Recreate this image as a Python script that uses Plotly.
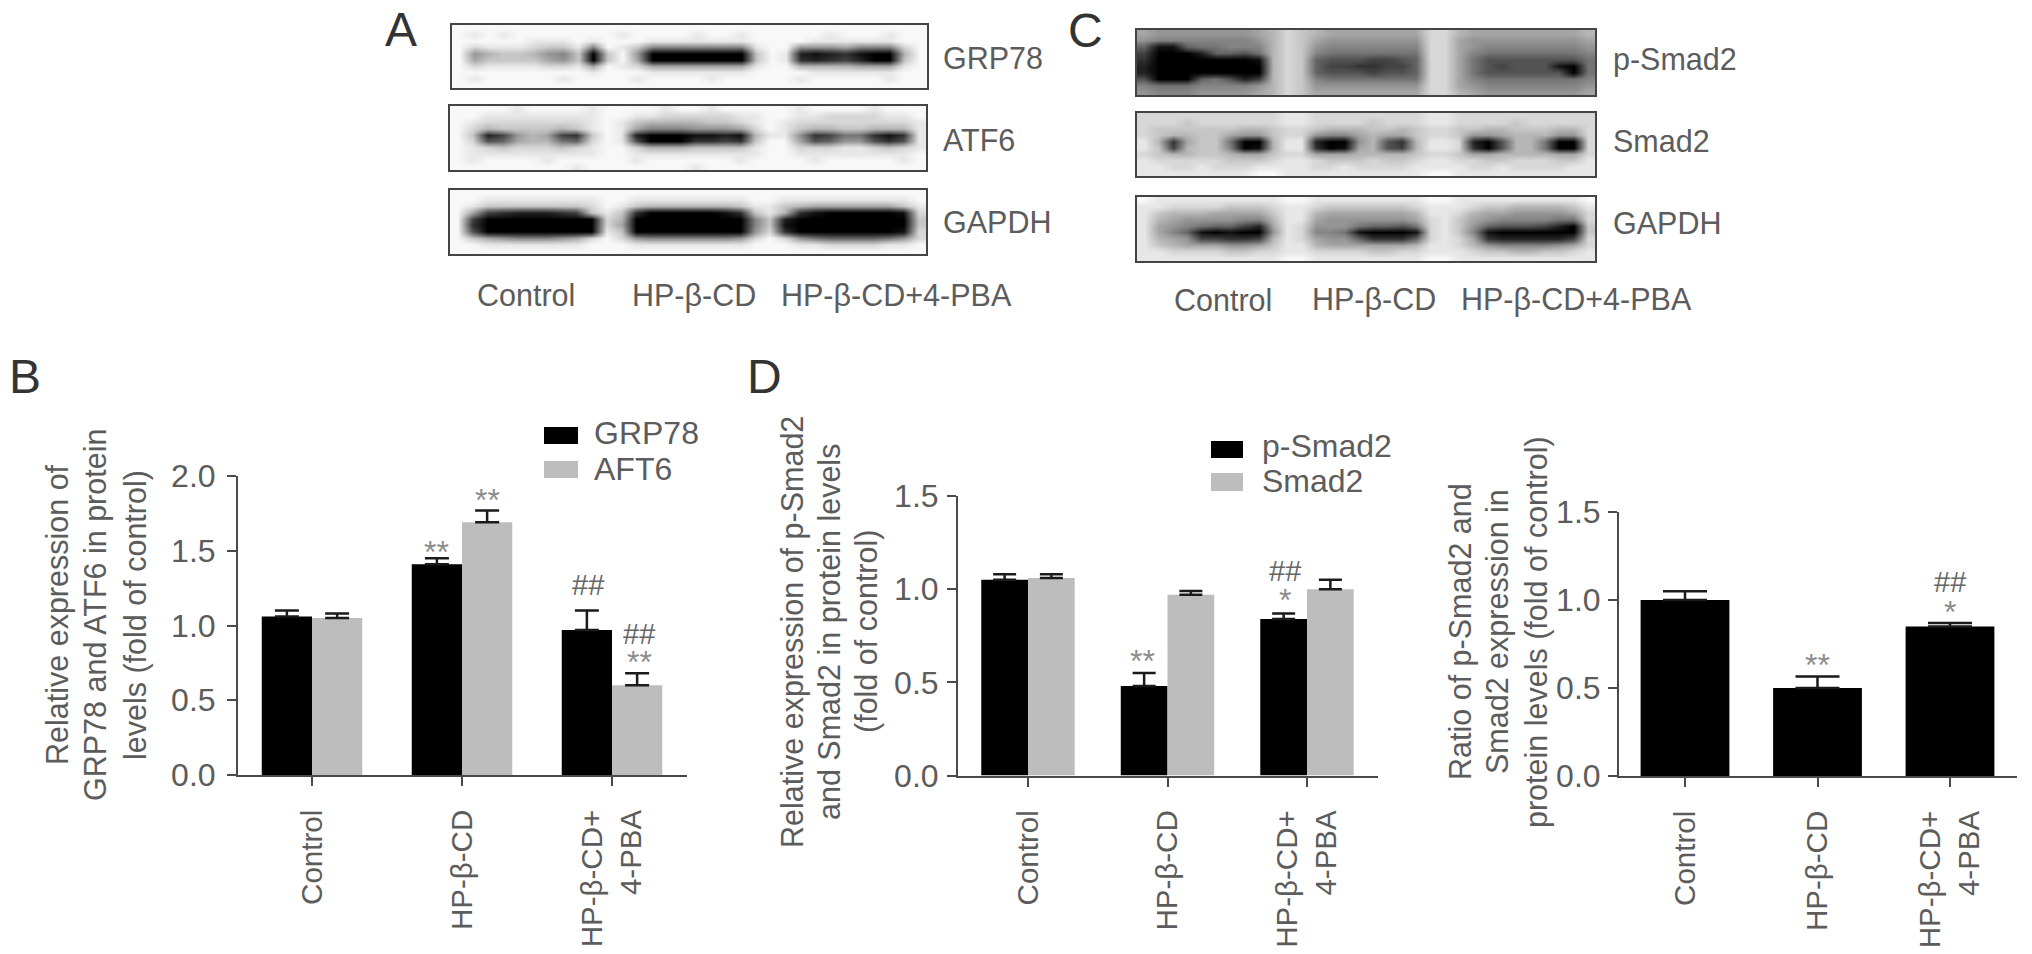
import plotly.graph_objects as go

W, H = 2032, 954
FONT = "Liberation Sans"
TXT = "#5c5c5c"
AX = "#4a4a4a"
BLACK = "#000000"
GREY = "#bdbdbd"
TITLE_SIZE = 30.5
LABEL_SIZE = 30.5
XTICK_SIZE = 29.5
LEGEND_SIZE = 32
TICK_SIZE = 32

# ---------- data ----------
groups3 = ["Control", "HP-β-CD", "HP-β-CD+<br>4-PBA"]

grp78 = [1.06, 1.41, 0.97]
grp78_err = [0.04, 0.04, 0.13]
aft6 = [1.05, 1.69, 0.60]
aft6_err = [0.03, 0.08, 0.08]

psmad2 = [1.05, 0.48, 0.84]
psmad2_err = [0.03, 0.07, 0.03]
smad2 = [1.06, 0.97, 1.00]
smad2_err = [0.02, 0.02, 0.05]

ratio = [1.00, 0.50, 0.85]
ratio_err = [0.05, 0.065, 0.02]

# blot intensities: one hex digit per cell, 0 = white, f = black
blot_grp78 = """
0000 0000 0000 0000 0000 0000 0000 0000
0101 0000 0001 0000 1001 0000 0100 0100
0000 0111 0100 0111 1111 0000 1111 1100
0211 1233 1701 3777 7777 1006 6657 7720
0643 3467 3f30 6fff ffff 301d edce ff40
0533 3356 3f30 5fff ffff 301c dcbd ff30
0211 1122 1501 2555 5555 1004 4445 5510
0000 0000 0100 0111 1111 0000 1111 1100
0100 0001 0000 1000 0100 0001 0000 0100
0000 0000 0000 0000 0000 0000 0000 0000
"""
blot_atf6 = """
0000 1000 0100 0010 0100 0001 0000 1000
0011 1111 1100 1122 2221 1001 1222 2110
0122 2222 2101 3444 4332 1012 2222 2221
0243 3334 3101 5777 6665 2013 4433 4441
03db 645b c301 dfff eede 4116 cb88 cec1
02a9 5448 9201 afff ccbc 3005 a966 aca1
0123 2223 2100 2444 3333 1002 2211 2321
0111 1111 1100 1111 1111 1001 1111 1110
0100 0010 0000 1000 0001 0000 1000 0010
0000 0000 1000 0000 1000 0000 0000 0000
"""
blot_gapdh_a = """
0000 0000 0000 0000 0000 0000 0000 0000
0011 1111 1100 1111 1111 0011 1111 1110
0133 3333 3201 3444 4443 1134 5555 5531
05bc dddc b313 cfff ffec 314c efff ffe2
0bff ffff ff24 ffff ffff 73df ffff fff3
0cff ffff ff25 ffff ffff 73ef ffff fff3
0aff ffff ff13 ffff ffff 62cf ffff ffe2
0356 7776 5202 6777 7776 2026 8999 9862
0011 1111 1000 1111 1111 0001 1222 2110
0000 0000 0000 0000 0000 0000 0000 0000
"""
blot_psmad2 = """
5666 6666 5423 4555 5555 2245 5555 5554
6777 7777 6423 5666 6666 2256 6666 6665
9ee9 8877 7423 6777 7777 2256 7777 7776
bfff d99a 8423 7888 8888 2257 8888 8887
cfff ffff e423 9aaa bba9 2258 aaaa aaa8
dfff ffff f423 9bbc cbb9 2258 abaa aef8
dfff ffff f423 9aaa baa9 2258 aaaa aaf8
afff 98ad b423 7888 8888 2257 8888 8887
7888 7777 6423 6666 6666 2256 7777 7776
6777 6666 5423 5555 5555 2245 6666 6665
"""
blot_smad2 = """
2222 2222 2211 2222 2222 1122 2222 2222
2223 2222 2211 2222 3222 1122 2232 2222
2333 3334 4322 3444 3343 2233 4433 3442
2344 3356 6322 6775 4553 2236 6544 4662
14c5 338f f411 dff6 4ac4 112d fa44 8ff2
13b4 337f e411 cfe5 4ab4 112c fa44 8ff2
2344 3345 5322 5554 4443 2235 5444 4552
1222 2233 3211 2333 2332 1122 3322 2331
1122 1222 1111 2212 2221 1112 2122 2211
1111 1111 0011 1111 1111 0011 1111 1111
"""
blot_gapdh_c = """
0111 1111 1100 1111 1111 0011 1111 1110
1122 2233 3211 2333 3332 1112 3344 4431
1344 4555 5311 4555 5554 1124 5566 6652
1456 6667 7411 5666 6665 2135 6777 7882
1567 899b d512 6668 99a8 2136 9aaa bdf3
1579 efef f612 778e fffe 2137 efff fff3
1456 bbcc b412 5669 ccc9 2125 cddd ddb2
1345 5566 5311 4555 5554 1124 6777 7652
1122 2233 2211 2222 3322 1112 3344 3321
1111 1111 1100 1111 1111 0011 1111 1111
"""


def decode(block):
    rows = []
    for line in block.strip().splitlines():
        rows.append([int(c, 16) for c in line.replace(" ", "")])
    return rows


def px_x(a):
    return a / W


def px_y(b):
    return 1 - b / H


def xdom(a, b):
    return [px_x(a), px_x(b)]


def ydom(top, bottom):
    return [px_y(bottom), px_y(top)]


fig = go.Figure()
layout = dict(
    template="none",
    width=W, height=H, margin=dict(l=0, r=0, t=0, b=0),
    autosize=False, paper_bgcolor="white", plot_bgcolor="white",
    showlegend=False, barmode="group", bargroupgap=0,
    font=dict(family=FONT, color=TXT, size=28),
)
annotations = []
shapes = []


def txt(x, y, s, size=LABEL_SIZE, color=TXT, angle=0, xanchor="center", yanchor="middle", align="center"):
    annotations.append(dict(
        x=px_x(x), y=px_y(y), xref="paper", yref="paper", text=s, showarrow=False,
        font=dict(size=size, color=color, family=FONT), textangle=angle,
        xanchor=xanchor, yanchor=yanchor, align=align,
    ))


def title_lines(xs, y, lines):
    for x, line in zip(xs, lines):
        txt(x, y, line, size=TITLE_SIZE, angle=-90)


def bar_panel(n, left, right, top, bottom, first_tick, pitch, ymax, dtick, standoff):
    sx = "" if n == 1 else str(n)
    layout["xaxis" + sx] = dict(
        domain=xdom(left, right), anchor="y" + sx, automargin=False,
        range=[(left - first_tick) / pitch, (right - first_tick) / pitch],
        tickmode="array", tickvals=[0, 1, 2], ticktext=groups3, tickangle=-90,
        ticks="outside", ticklen=9, tickwidth=2, tickcolor=AX,
        showline=True, linecolor=AX, linewidth=2, showgrid=False, zeroline=False,
        tickfont=dict(size=XTICK_SIZE, color=TXT, family=FONT), ticklabelstandoff=12,
    )
    layout["yaxis" + sx] = dict(
        domain=ydom(top, bottom), anchor="x" + sx, range=[0, ymax], automargin=False,
        tick0=0, dtick=dtick, tickformat=".1f",
        ticks="outside", ticklen=9, tickwidth=2, tickcolor=AX,
        showline=True, linecolor=AX, linewidth=2, showgrid=False, zeroline=False,
        tickfont=dict(size=TICK_SIZE, color=TXT, family=FONT), ticklabelstandoff=standoff,
    )


def bars(n, name, vals, errs, color, width=None, cap=12):
    sx = "" if n == 1 else str(n)
    fig.add_trace(go.Bar(
        x=[0, 1, 2], y=vals, name=name, marker=dict(color=color, line=dict(width=0)),
        width=width, xaxis="x" + sx, yaxis="y" + sx,
        error_y=dict(type="data", symmetric=False, array=errs,
                     arrayminus=[0, 0, 0], color="#1a1a1a", thickness=2.5, width=cap),
    ))


def mark(n, x, y, s):
    sx = "" if n == 1 else str(n)
    star = "*" in s
    annotations.append(dict(
        x=x, y=y, xref="x" + sx, yref="y" + sx, text=s, showarrow=False,
        font=dict(size=32 if star else 29, color="#8c8c8c" if star else "#666666", family=FONT),
        xanchor="center", yanchor="middle",
    ))


blot_n = [4]


def blot(left, right, top, bottom, block):
    n = blot_n[0]
    blot_n[0] += 1
    z = decode(block)
    fig.add_trace(go.Heatmap(
        z=z, zmin=0, zmax=15, zsmooth="best", showscale=False, hoverinfo="skip",
        colorscale=[[0, "#f8f8f8"], [1, "#000000"]], xaxis="x%d" % n, yaxis="y%d" % n,
    ))
    frame = dict(showline=True, mirror=True, linecolor="#444444", linewidth=2, automargin=False,
                 ticks="", showticklabels=False, showgrid=False, zeroline=False)
    layout["xaxis%d" % n] = dict(domain=xdom(left, right), anchor="y%d" % n,
                                 range=[-0.5, len(z[0]) - 0.5], **frame)
    layout["yaxis%d" % n] = dict(domain=ydom(top, bottom), anchor="x%d" % n,
                                 range=[len(z) - 0.5, -0.5], **frame)


def legend_swatch(x0, x1, y0, y1, color):
    shapes.append(dict(type="rect", xref="paper", yref="paper",
                       x0=px_x(x0), x1=px_x(x1), y0=px_y(y1), y1=px_y(y0),
                       fillcolor=color, line=dict(width=0)))


# ---------- panel B ----------
bar_panel(1, 238, 687, 476, 775, 312, 150, 2.0, 0.5, 5)
bars(1, "GRP78", grp78, grp78_err, BLACK)
bars(1, "AFT6", aft6, aft6_err, GREY)
mark(1, 0.83, 1.49, "**")
mark(1, 1.17, 1.84, "**")
mark(1, 1.84, 1.27, "##")
mark(1, 2.18, 0.94, "##")
mark(1, 2.18, 0.755, "**")
legend_swatch(544, 578, 427, 444, BLACK)
legend_swatch(544, 578, 461, 478, GREY)
txt(592, 433, "GRP78", size=LEGEND_SIZE, xanchor="left")
txt(592, 469, "AFT6", size=LEGEND_SIZE, xanchor="left")
title_lines([57, 95, 135], 615,
            ["Relative expression of", "GRP78 and ATF6 in protein", "levels (fold of control)"])

# ---------- panel D left ----------
bar_panel(2, 958, 1378, 496, 775.5, 1028, 139.5, 1.5, 0.5, 2)
bars(2, "p-Smad2", psmad2, psmad2_err, BLACK, cap=11.5)
bars(2, "Smad2", smad2, smad2_err, GREY, cap=11.5)
mark(2, 0.82, 0.615, "**")
mark(2, 1.84, 1.10, "##")
mark(2, 1.84, 0.94, "*")
legend_swatch(1211, 1243, 441, 458, BLACK)
legend_swatch(1211, 1243, 473, 491, GREY)
txt(1260, 446, "p-Smad2", size=LEGEND_SIZE, xanchor="left")
txt(1260, 481, "Smad2", size=LEGEND_SIZE, xanchor="left")
title_lines([792, 829, 866], 632,
            ["Relative expression of p-Smad2", "and Smad2 in protein levels", "(fold of control)"])

# ---------- panel D right ----------
bar_panel(3, 1619, 2017, 512, 776, 1685, 132.5, 1.5, 0.5, 1)
fig.add_trace(go.Bar(
    x=[0, 1, 2], y=ratio, name="Ratio", width=0.67,
    marker=dict(color=BLACK, line=dict(width=0)), xaxis="x3", yaxis="y3",
    error_y=dict(type="data", symmetric=False, array=ratio_err, arrayminus=[0, 0, 0],
                 color="#1a1a1a", thickness=2.5, width=22),
))
mark(3, 1.0, 0.63, "**")
mark(3, 2.0, 1.10, "##")
mark(3, 2.0, 0.93, "*")
title_lines([1460, 1497, 1536], 632,
            ["Ratio of p-Smad2 and", "Smad2 expression in", "protein levels (fold of control)"])

layout["bargap"] = 0.33

# ---------- panel A ----------
blot(452, 927, 25, 88, blot_grp78)
blot(450, 926, 106, 170, blot_atf6)
blot(450, 926, 190, 254, blot_gapdh_a)
txt(941, 58, "GRP78", xanchor="left")
txt(941, 140, "ATF6", xanchor="left")
txt(941, 222, "GAPDH", xanchor="left")
txt(526, 295, "Control")
txt(694, 295, "HP-β-CD")
txt(896, 295, "HP-β-CD+4-PBA")

# ---------- panel C ----------
blot(1137, 1595, 30, 95, blot_psmad2)
blot(1137, 1595, 113, 176, blot_smad2)
blot(1137, 1595, 197, 261, blot_gapdh_c)
txt(1611, 59, "p-Smad2", xanchor="left")
txt(1611, 141, "Smad2", xanchor="left")
txt(1611, 223, "GAPDH", xanchor="left")
txt(1223, 300, "Control")
txt(1374, 300, "HP-β-CD")
txt(1576, 300, "HP-β-CD+4-PBA")

# ---------- panel letters ----------
for lx, ly, s in [(401, 30, "A"), (25, 377, "B"), (1085, 31, "C"), (764, 377, "D")]:
    txt(lx, ly, s, size=48, color="#333333")

layout["annotations"] = annotations
layout["shapes"] = shapes
fig.update_layout(**layout)
fig.write_html(
    "out.html",
    config={"displayModeBar": False},
    post_script="document.body.style.margin='0';document.documentElement.style.overflow='hidden';",
)
